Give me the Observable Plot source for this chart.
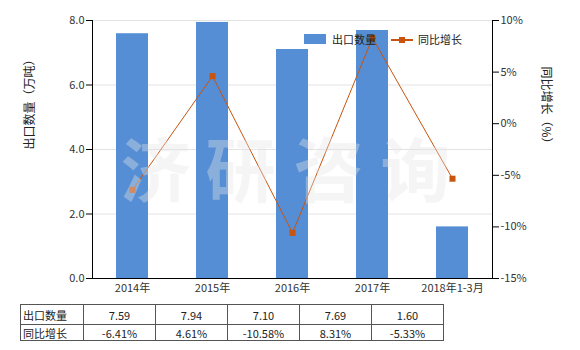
<!DOCTYPE html>
<html><head><meta charset="utf-8">
<script src="https://cdn.jsdelivr.net/npm/d3@7"></script>
<script src="https://cdn.jsdelivr.net/npm/@observablehq/plot@0.6"></script>
<style>
body{margin:0;background:#fff;font-family:"Noto Sans CJK SC","Noto Sans",sans-serif;}
#wrap{position:relative;width:580px;height:350px;overflow:hidden;}
#chart{position:absolute;left:0;top:0;}
.leg{position:absolute;font-size:11px;color:#222;line-height:12px;white-space:nowrap;}
table{position:absolute;left:20px;top:304px;border-collapse:collapse;font-size:11px;color:#222;table-layout:fixed;}
td{border:1px solid #555;padding:0 2px;text-align:center;line-height:14px;}
td.h{text-align:left;}
</style></head><body>
<div id="wrap"><div id="chart"></div></div>
<script>
const categories = ["2014年","2015年","2016年","2017年","2018年1-3月"];
const exportQty = [7.59, 7.94, 7.10, 7.69, 1.60];
const growth = [-6.41, 4.61, -10.58, 8.31, -5.33];
const leftTicks = [0, 2, 4, 6, 8];
const rightTicks = [-15, -10, -5, 0, 5, 10];
const qtyLabels = ["7.59","7.94","7.10","7.69","1.60"];
const growthLabels = ["-6.41%","4.61%","-10.58%","8.31%","-5.33%"];
const seriesNames = ["出口数量","同比增长"];
const leftTitle = "出口数量（万吨）";
const rightTitle = "同比增长（%）";
const watermark = "济研咨询";

const barColor = "#558ed5";
const lineColor = "#c8540e";
const rMin = -15, rMax = 10, lMax = 8;
const toLeft = v => (v - rMin) / (rMax - rMin) * lMax;
const fromLeft = v => v / lMax * (rMax - rMin) + rMin;

const rows = categories.map((c, i) => ({cat: c, qty: exportQty[i], g: growth[i], gy: toLeft(growth[i])}));
const font = '"Noto Sans CJK SC","Noto Sans",sans-serif';

const wmOffsets = [-137, -52, 36, 123];
const wmMarks = [...watermark].map((ch, i) =>
  Plot.text([ch], {frameAnchor: "middle", text: d => d, dx: wmOffsets[i], dy: 25, fontSize: 70, fontWeight: "bold", fill: "#e4e4e4", fillOpacity: 0.38, fontFamily: font})
);

const chart = Plot.plot({
  width: 580, height: 300,
  marginTop: 20, marginBottom: 22, marginLeft: 92, marginRight: 88,
  style: {fontFamily: font, fontSize: "11px", color: "#333", background: "transparent"},
  x: {domain: categories, paddingInner: 0.6, paddingOuter: 0.3},
  y: {domain: [0, lMax]},
  marks: [
    Plot.gridY(leftTicks.slice(1), {stroke: "#e3e3e3", strokeOpacity: 1}),
    Plot.barY(rows, {x: "cat", y: "qty", fill: barColor}),
    Plot.line(rows, {x: "cat", y: "gy", stroke: lineColor, strokeWidth: 1}),
    Plot.dot(rows, {x: "cat", y: "gy", symbol: "square", r: 3.4, fill: lineColor, stroke: "none"}),
    ...wmMarks,
    Plot.frame({anchor: "left", stroke: "#000"}),
    Plot.frame({anchor: "right", stroke: "#000"}),
    Plot.frame({anchor: "bottom", stroke: "#000"}),
    Plot.axisY(leftTicks, {anchor: "left", tickFormat: d => d.toFixed(1), tickSize: 6, tickPadding: 2, label: null, stroke: "#000", fill: "#333"}),
    Plot.axisY(rightTicks.map(toLeft), {anchor: "right", tickFormat: d => Math.round(fromLeft(d)) + "%", tickSize: 6, tickPadding: 2, label: null, stroke: "#000", fill: "#333"}),
    Plot.axisX({tickSize: 0, tickPadding: 6, label: null, fill: "#333"}),
    Plot.text([leftTitle], {frameAnchor: "left", text: d => d, dx: -62, rotate: -90, fontSize: 12, fill: "#222"}),
    Plot.text([rightTitle], {frameAnchor: "right", text: d => d, dx: 53, rotate: 90, fontSize: 12, fill: "#222"})
  ]
});
document.getElementById("chart").appendChild(chart);

const wrap = document.getElementById("wrap");
// legend
const leg = document.createElement("div");
leg.innerHTML =
  `<div style="position:absolute;left:304px;top:34px;width:22px;height:10px;background:${barColor}"></div>` +
  `<div class="leg" style="left:332px;top:33px">${seriesNames[0]}</div>` +
  `<div style="position:absolute;left:391px;top:39px;width:22px;height:2px;background:${lineColor}"></div>` +
  `<div style="position:absolute;left:399px;top:37px;width:6px;height:6px;background:${lineColor}"></div>` +
  `<div class="leg" style="left:418px;top:33px">${seriesNames[1]}</div>`;
wrap.appendChild(leg);

// data table
const table = document.createElement("table");
const colW = [63, 72, 72, 72, 72, 72];
let html = "<colgroup>" + colW.map(w => `<col style="width:${w}px">`).join("") + "</colgroup>";
html += `<tr style="height:20px"><td class="h">${seriesNames[0]}</td>` + qtyLabels.map(v => `<td>${v}</td>`).join("") + "</tr>";
html += `<tr style="height:16px"><td class="h">${seriesNames[1]}</td>` + growthLabels.map(v => `<td>${v}</td>`).join("") + "</tr>";
table.innerHTML = html;
wrap.appendChild(table);
</script>
</body></html>
